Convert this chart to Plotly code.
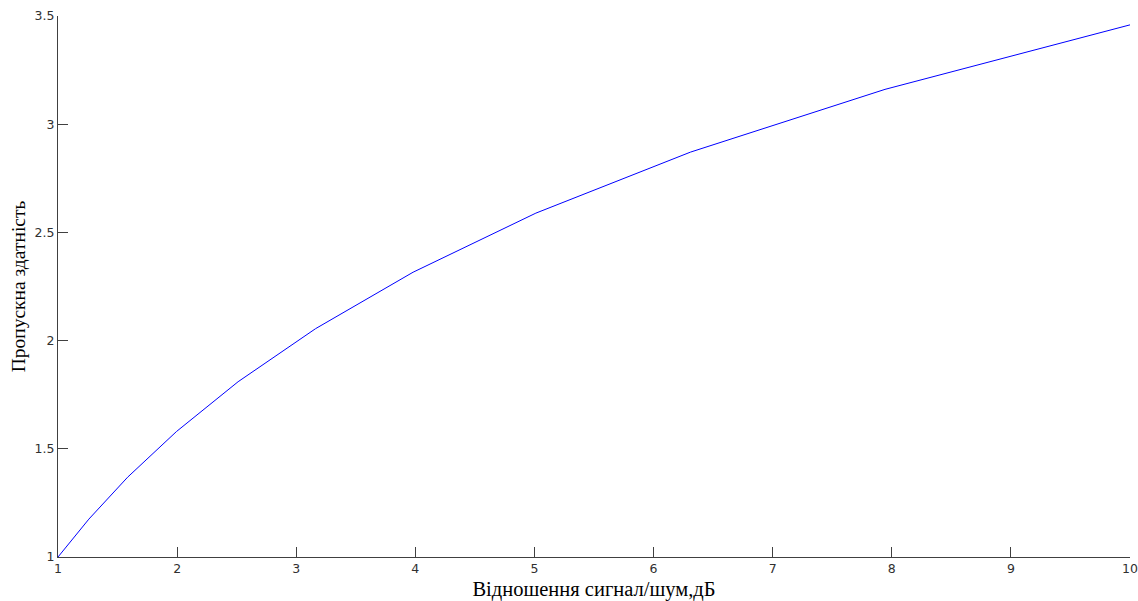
import plotly.graph_objects as go

snr = [1.0, 1.259, 1.585, 1.995, 2.512, 3.162, 3.981, 5.012, 6.310, 7.943, 10.0]
capacity = [1.0, 1.175, 1.369, 1.580, 1.810, 2.055, 2.316, 2.589, 2.871, 3.161, 3.459]
x_ticks = [1, 2, 3, 4, 5, 6, 7, 8, 9, 10]
y_ticks = [1, 1.5, 2, 2.5, 3, 3.5]
y_tick_text = ["1", "1.5", "2", "2.5", "3", "3.5"]

fig = go.Figure()
fig.add_trace(go.Scatter(x=snr, y=capacity, mode="lines", cliponaxis=False,
                         line=dict(color="#0000ff", width=1), showlegend=False))

axis_common = dict(showgrid=False, zeroline=False, showline=True, linecolor="#404040",
                   linewidth=1, ticks="inside", ticklen=10, tickcolor="#404040",
                   automargin=False, ticklabeloverflow="allow",
                   tickfont=dict(family="DejaVu Sans", size=12.5, color="#303030"))

fig.update_layout(
    width=1138, height=601,
    margin=dict(l=58, r=8, t=16, b=44),
    paper_bgcolor="white", plot_bgcolor="white",
    xaxis=dict(range=[1, 10], tickvals=x_ticks,
               title=dict(text="Відношення сигнал/шум,дБ", standoff=7,
                          font=dict(family="Liberation Serif", size=20.5, color="black")),
               **axis_common),
    yaxis=dict(range=[1, 3.5], tickvals=y_ticks, ticktext=y_tick_text,
               title=dict(text="Пропускна здатність", standoff=3,
                          font=dict(family="Liberation Serif", size=19.5, color="black")),
               **axis_common),
)

fig.write_html("out.html", config={"displayModeBar": False},
               post_script="document.body.style.margin='0';document.body.style.overflow='hidden';")
